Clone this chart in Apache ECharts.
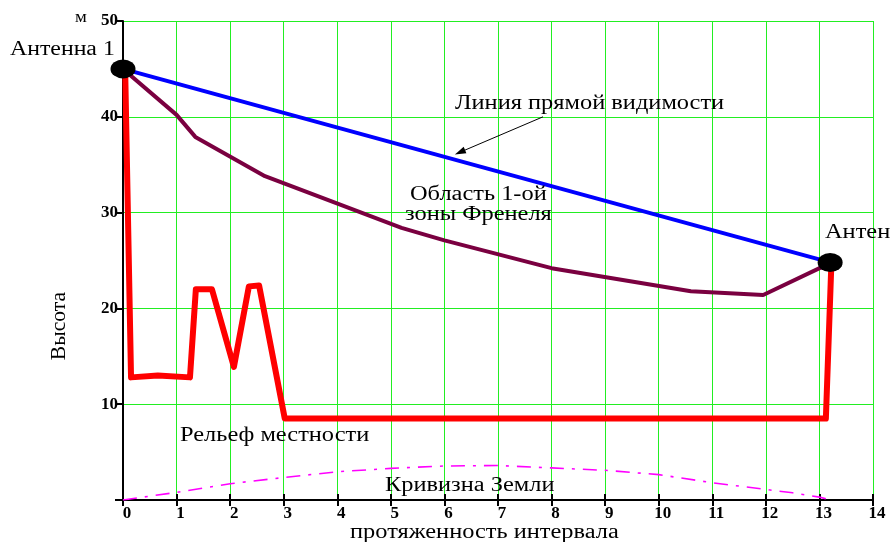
<!DOCTYPE html>
<html><head><meta charset="utf-8">
<script src="https://cdn.jsdelivr.net/npm/echarts@6/dist/echarts.min.js"></script>
<style>html,body{margin:0;padding:0;background:#fff}#c{width:890px;height:542px}</style>
</head><body><div id="c"></div>
<script>
// Data (x: протяженность интервала, y: высота, м)
var xTicks = [0,1,2,3,4,5,6,7,8,9,10,11,12,13,14];
var yTicks = [0,10,20,30,40,50];
var antennaPoints = [[0,45],[13.2,24.8]];
var sightLine = [[0,45],[13.2,24.8]];
var fresnelZone = [[0,45],[1.0,40.2],[1.35,37.9],[2.65,33.8],[5.2,28.4],[6.0,27.1],[8.0,24.2],[10.6,21.8],[11.95,21.4],[13.15,24.6]];
var terrain = [[0.04,45],[0.15,12.8],[0.65,13.0],[1.25,12.8],[1.36,22.0],[1.66,22.0],[2.07,13.9],[2.35,22.3],[2.54,22.4],[3.02,8.5],[13.12,8.5],[13.22,24.2]];
var earthCurve = [[0,0],[1,0.8],[2,1.7],[3,2.35],[4,2.95],[5,3.3],[6,3.55],[7,3.6],[8,3.35],[9,3.1],[10,2.65],[11,1.8],[12,1.1],[12.5,0.75],[13,0.3],[13.2,0]];
var arrowFromTo = [[7.84,40.0],[6.29,36.3]];

var serif = '"Liberation Serif", "Times New Roman", serif';
var chart = echarts.init(document.getElementById('c'));
function txt(s, x, y, size, sx) {
  return {type:'text', x:x, y:y, z:100, scaleX:(sx||1.22),
    style:{text:s, font:(size||20)+'px '+serif, fill:'#000', textVerticalAlign:'middle', textAlign:'left'}};
}
var option = {
  animation:false,
  backgroundColor:'#fff',
  grid:{left:123, right:17, top:21, bottom:42},
  xAxis:[{
    type:'value', min:xTicks[0], max:xTicks[xTicks.length-1], interval:1,
    axisLine:{onZero:false, lineStyle:{color:'#000', width:2}},
    axisTick:{show:true, length:6, lineStyle:{color:'#000', width:2}},
    axisLabel:{fontFamily:serif, fontSize:17, fontWeight:'bold', color:'#000', margin:5, padding:[0,0,0,8]},
    splitLine:{show:true, lineStyle:{color:'#22ee22', width:1}}
  },{
    type:'value', position:'bottom', min:xTicks[0], max:xTicks[xTicks.length-1], interval:1,
    axisLine:{show:false, onZero:false},
    axisTick:{show:true, inside:true, length:6, lineStyle:{color:'#000', width:2}},
    axisLabel:{show:false}, splitLine:{show:false}
  }],
  yAxis:{
    type:'value', min:yTicks[0], max:yTicks[yTicks.length-1], interval:10,
    axisLine:{show:true, onZero:false, lineStyle:{color:'#000', width:2}},
    axisTick:{show:true, length:8, lineStyle:{color:'#000', width:2}},
    axisLabel:{fontFamily:serif, fontSize:17, fontWeight:'bold', color:'#000', margin:5, padding:[4,0,0,0],
      formatter:function(v){return v===0?'':String(v);}},
    splitLine:{show:true, lineStyle:{color:'#22ee22', width:1}}
  },
  series:[
    {type:'line', data:earthCurve, symbol:'none', z:2,
     lineStyle:{color:'#ff00ff', width:1.6, type:[14,8,3,8]}},
    {type:'line', data:terrain, symbol:'none', z:3,
     lineStyle:{color:'#ff0000', width:6, join:'round'}},
    {type:'line', data:fresnelZone, symbol:'none', z:4,
     lineStyle:{color:'#7a0040', width:4}},
    {type:'line', data:sightLine, symbol:'none', z:5,
     lineStyle:{color:'#0000ff', width:4},
     markLine:{silent:true, symbol:['none','triangle'], symbolSize:[7,11], label:{show:false},
       lineStyle:{color:'#000', width:1, type:'solid'},
       data:[[{coord:arrowFromTo[0]},{coord:arrowFromTo[1]}]]}},
    {type:'scatter', data:antennaPoints, symbol:'circle', symbolSize:[25,19], z:10,
     itemStyle:{color:'#000', opacity:1}}
  ],
  graphic:[
    txt('м', 75, 18, 17, 1.1),
    txt('Антенна 1', 10, 50, 20, 1.19),
    txt('Линия прямой видимости', 455, 104, 20),
    txt('Область 1-ой', 410, 195, 20),
    txt('зоны Френеля', 405, 215, 20),
    txt('Антен', 825, 233, 20),
    txt('Рельеф местности', 180, 436, 20),
    txt('Кривизна Земли', 385, 486, 20),
    txt('протяженность интервала', 350, 533, 20),
    {type:'text', x:60, y:326, rotation:Math.PI/2, z:100, scaleX:1.08,
     style:{text:'Высота', font:'20px '+serif, fill:'#000', textAlign:'center', textVerticalAlign:'middle'}}
  ]
};
chart.setOption(option);
</script></body></html>
